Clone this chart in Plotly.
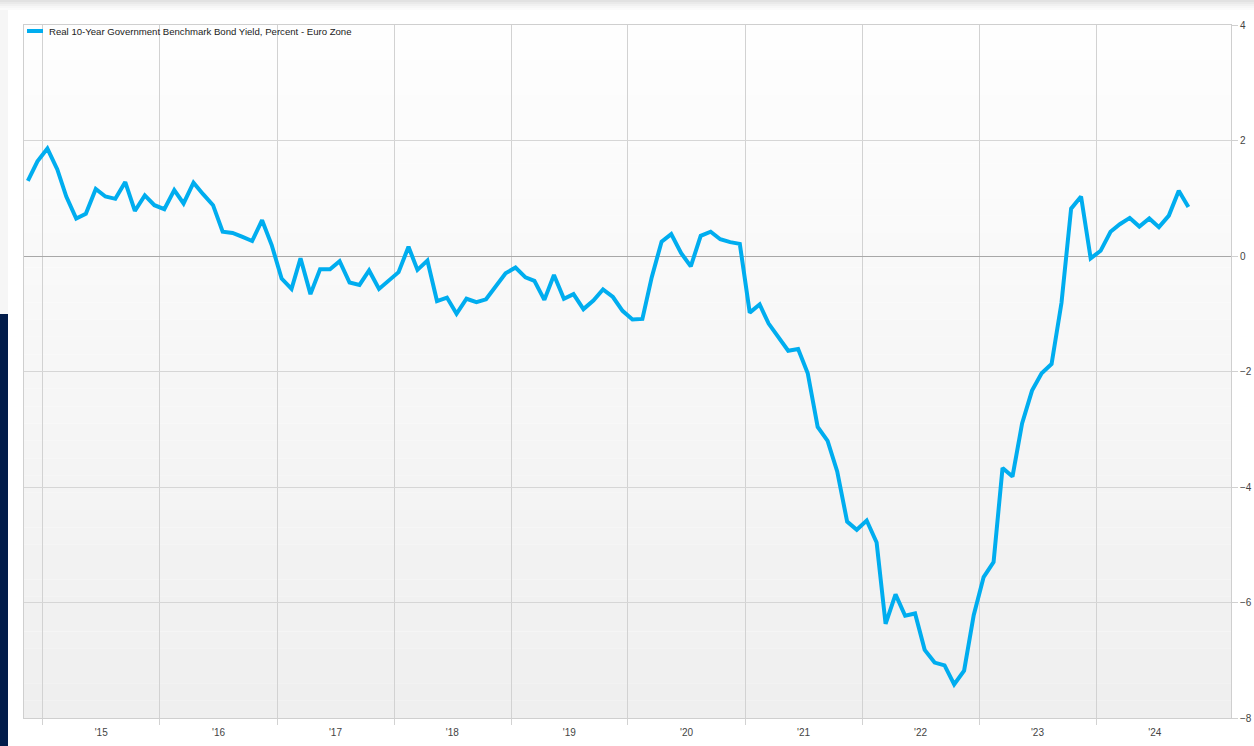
import pandas as pd
import plotly.graph_objects as go

# ---- data (monthly) ----
series_name = "Real 10-Year Government Benchmark Bond Yield, Percent - Euro Zone"
first_month = "2014-11-01"
y2014 = [1.30, 1.64]
y2015 = [1.86, 1.50, 1.03, 0.65, 0.73, 1.16, 1.03, 0.99, 1.28, 0.78, 1.05, 0.88]
y2016 = [0.81, 1.14, 0.91, 1.27, 1.07, 0.88, 0.42, 0.40, 0.33, 0.26, 0.62, 0.19]
y2017 = [-0.39, -0.57, -0.04, -0.66, -0.23, -0.23, -0.09, -0.46, -0.50, -0.25, -0.57, -0.42]
y2018 = [-0.28, 0.16, -0.24, -0.08, -0.78, -0.72, -1.00, -0.74, -0.80, -0.75, -0.51, -0.30]
y2019 = [-0.20, -0.37, -0.43, -0.76, -0.33, -0.74, -0.66, -0.92, -0.77, -0.58, -0.71, -0.95]
y2020 = [-1.10, -1.09, -0.37, 0.25, 0.38, 0.05, -0.18, 0.35, 0.42, 0.29, 0.24, 0.21]
y2021 = [-0.98, -0.84, -1.17, -1.40, -1.64, -1.61, -2.03, -2.96, -3.20, -3.73, -4.60, -4.74]
y2022 = [-4.58, -4.96, -6.37, -5.86, -6.23, -6.19, -6.82, -7.04, -7.09, -7.42, -7.18, -6.22]
y2023 = [-5.56, -5.30, -3.67, -3.82, -2.90, -2.33, -2.03, -1.87, -0.81, 0.82, 1.03, -0.04]
y2024 = [0.09, 0.42, 0.55, 0.66, 0.51, 0.65, 0.50, 0.70, 1.13, 0.85]
years = list(range(2015, 2025))
year_labels = ["'15", "'16", "'17", "'18", "'19", "'20", "'21", "'22", "'23", "'24"]
y_ticks = [-8, -6, -4, -2, 0, 2, 4]

values = y2014 + y2015 + y2016 + y2017 + y2018 + y2019 + y2020 + y2021 + y2022 + y2023 + y2024
dates = pd.date_range(first_month, periods=len(values), freq="MS") + pd.Timedelta(days=14)
year_starts = [f"{y}-01-01" for y in years]
year_mids = [f"{y}-07-02" for y in years]

# ---- geometry / style ----
W, H = 1254, 746
ML, MR, MT, MB = 24, 23, 25, 28
PW, PH = W - ML - MR, H - MT - MB
BLUE = "#00adef"
FONT = "Liberation Sans, Arial, sans-serif"


def px_x(p):
    return (p - ML) / PW


def px_y(p):
    return (H - MB - p) / PH


fig = go.Figure()
fig.add_trace(go.Scatter(
    x=dates, y=values, mode="lines", name=series_name,
    line=dict(color=BLUE, width=4), showlegend=False,
))

shapes = []
# background vertical gradient inside the plot area (below gridlines)
n_bands = 40
for i in range(n_bands):
    t = i / (n_bands - 1)
    c = int(round(254 - t * (254 - 239)))
    shapes.append(dict(
        type="rect", xref="paper", yref="paper", layer="below",
        x0=0, x1=1, y0=1 - (i + 1) / n_bands, y1=1 - i / n_bands,
        fillcolor=f"rgb({c},{c},{c})", line=dict(width=0),
    ))
# top shadow strip of the page
shadow = [226, 234, 241, 247, 251]
for i, c in enumerate(shadow):
    shapes.append(dict(
        type="rect", xref="paper", yref="paper", layer="below",
        x0=px_x(0), x1=px_x(W), y0=px_y(2 * (i + 1)), y1=px_y(2 * i),
        fillcolor=f"rgb({c},{c},{c})", line=dict(width=0),
    ))
# faint panel edge on the left
shapes.append(dict(
    type="rect", xref="paper", yref="paper", layer="below",
    x0=px_x(0), x1=px_x(8), y0=px_y(314), y1=px_y(10),
    fillcolor="rgb(246,246,246)", line=dict(width=0),
))
# dark navy bar at the left edge
shapes.append(dict(
    type="rect", xref="paper", yref="paper", layer="above",
    x0=px_x(0), x1=px_x(8), y0=px_y(H), y1=px_y(314),
    fillcolor="#021c4a", line=dict(width=0),
))
# legend sample line
shapes.append(dict(
    type="line", xref="paper", yref="paper",
    x0=px_x(27), x1=px_x(43), y0=px_y(31), y1=px_y(31),
    line=dict(color=BLUE, width=4),
))

fig.update_layout(
    width=W, height=H, autosize=False,
    margin=dict(l=ML, r=MR, t=MT, b=MB, pad=0, autoexpand=False),
    paper_bgcolor="white", plot_bgcolor="rgba(0,0,0,0)",
    font=dict(family=FONT, size=10, color="#444"),
    shapes=shapes,
    annotations=[dict(
        text=series_name, xref="paper", yref="paper",
        x=px_x(47), y=px_y(31), xanchor="left", yanchor="middle",
        showarrow=False, font=dict(family=FONT, size=9.6, color="#222"),
    )],
    xaxis=dict(
        type="date", range=["2014-11-03", "2025-02-25"],
        tickmode="array", tickvals=year_mids, ticktext=year_labels,
        ticks="outside", ticklen=5, tickcolor="rgba(0,0,0,0)",
        showgrid=False, automargin=False,
        minor=dict(
            tickmode="array", tickvals=year_starts,
            ticks="outside", ticklen=6, tickcolor="#d2d2d2",
            showgrid=True, gridcolor="#d2d2d2", gridwidth=1,
        ),
        showline=True, linecolor="#cfcfcf", mirror=True,
        tickfont=dict(family=FONT, size=10, color="#444"),
        fixedrange=True,
    ),
    yaxis=dict(
        side="right", range=[-8, 4], tickvals=y_ticks, automargin=False,
        showgrid=True, gridcolor="#d6d6d6", gridwidth=1,
        zeroline=True, zerolinecolor="#a8a8a8", zerolinewidth=1,
        ticks="outside", ticklen=6, tickcolor="#d0d0d0",
        showline=True, linecolor="#cfcfcf", mirror=True,
        tickfont=dict(family=FONT, size=10, color="#444"),
        fixedrange=True,
    ),
)

fig.write_html(
    "out.html",
    config={"displayModeBar": False},
    post_script="document.body.style.margin='0px';document.body.style.overflow='hidden';",
)
